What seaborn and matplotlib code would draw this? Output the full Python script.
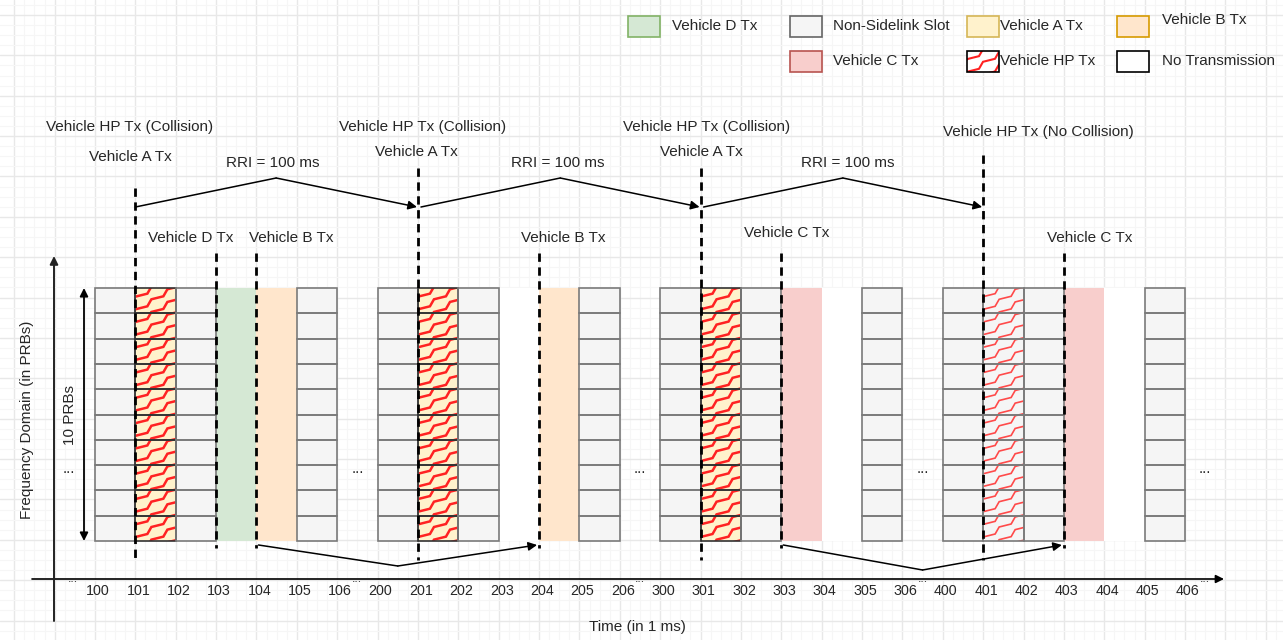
import numpy as np
import matplotlib
matplotlib.use('Agg')
import matplotlib.pyplot as plt
from matplotlib.patches import Rectangle
import seaborn as sns

# ---- data ----
BLOCK_STARTS = [100, 200, 300, 400]
N_PRB = 10
BLOCK_KINDS = [
    ['non_sl', 'hp_a', 'non_sl', 'veh_d', 'veh_b', 'non_sl'],
    ['non_sl', 'hp_a', 'non_sl', 'none', 'veh_b', 'non_sl'],
    ['non_sl', 'hp_a', 'non_sl', 'veh_c', 'none', 'non_sl'],
    ['non_sl', 'hp_free', 'non_sl', 'veh_c', 'none', 'non_sl'],
]
TICK_LABELS = [b + i for b in BLOCK_STARTS for i in range(7)]

HP_SLOTS = [101, 201, 301, 401]
HP_LABELS = ['Vehicle HP Tx (Collision)'] * 3 + ['Vehicle HP Tx (No Collision)']
A_SLOTS = [101, 201, 301]
A_LABEL = 'Vehicle A Tx'
OTHER_SLOTS = [103, 104, 204, 303, 403]
OTHER_LABELS = ['Vehicle D Tx', 'Vehicle B Tx', 'Vehicle B Tx', 'Vehicle C Tx', 'Vehicle C Tx']
RRI_PAIRS = [(101, 201), (201, 301), (301, 401)]
RRI_LABEL = 'RRI = 100 ms'
RESEL_PAIRS = [(104, 204), (303, 403)]

LEGEND_ROWS = [['veh_d', 'non_sl', 'veh_a', 'veh_b'],
               [None, 'veh_c', 'hp', 'none']]
LEGEND_TEXT = {'veh_d': 'Vehicle D Tx', 'non_sl': 'Non-Sidelink Slot', 'veh_a': 'Vehicle A Tx',
               'veh_b': 'Vehicle B Tx', 'veh_c': 'Vehicle C Tx', 'hp': 'Vehicle HP Tx',
               'none': 'No Transmission'}

# ---- styles / layout ----
COLORS = {'non_sl': ('#f5f5f5', '#666666'), 'veh_a': ('#fff2cc', '#d6b656'),
          'veh_b': ('#ffe6cc', '#d79b00'), 'veh_c': ('#f8cecc', '#b85450'),
          'veh_d': ('#d5e8d4', '#82b366'), 'none': ('#ffffff', '#000000'),
          'hp': ('#ffffff', '#000000')}
SLOT_PX = 40.37
X0_PX = 95
TOP = 288
ROW_H = 25.3
BOTTOM = TOP + N_PRB * ROW_H

sns.set_theme(style='white')
plt.rcParams['font.family'] = ['Liberation Sans', 'DejaVu Sans']


def slot_pos(s):
    return (s // 100 - 1) * 7 + s % 100


def px2x(px):
    return (px - X0_PX) / SLOT_PX


def zigzag(ax, x_left, y_top, w_px, h_px, color, lw, z):
    # red zigzag fill (sketch style) clipped to the cell
    clip = Rectangle((x_left, y_top), w_px / SLOT_PX, h_px, transform=ax.transData)
    for c in np.arange(y_top - 4, y_top + h_px + w_px * 0.7 + 12, ROW_H / 2):
        xs, ys = [], []
        for k in range(-1, int(w_px / 16) + 2):
            xs += [k * 16, k * 16 + 12]
            ys += [c - k * 10, c - k * 10 - 3]
        ln, = ax.plot(x_left + np.array(xs) / SLOT_PX, ys, color=color, lw=lw,
                      solid_joinstyle='miter', zorder=z)
        ln.set_clip_path(clip)


fig = plt.figure(figsize=(12.83, 6.40), dpi=100)
ax = fig.add_axes([0, 0, 1, 1])

# background grid like a drawing canvas
ax.set_xticks(np.arange(-2, 31))
ax.set_xticks(np.arange(-2, 31, 0.25), minor=True)
ax.set_yticks(np.arange(15, 640, SLOT_PX))
ax.set_yticks(np.arange(15 - SLOT_PX, 640, SLOT_PX / 4), minor=True)
ax.grid(which='major', color='#e8e8e8', lw=1.0)
ax.grid(which='minor', color='#f6f6f6', lw=0.8)
ax.tick_params(which='both', length=0, labelbottom=False, labelleft=False)
ax.set_axisbelow(True)
for sp in ax.spines.values():
    sp.set_visible(False)

# ---- resource grid ----
for b, kinds in zip(BLOCK_STARTS, BLOCK_KINDS):
    for i, kind in enumerate(kinds):
        x = slot_pos(b + i)
        if kind in ('non_sl', 'hp_a', 'hp_free'):
            fill = COLORS['veh_a'][0] if kind == 'hp_a' else COLORS['non_sl'][0]
            edge = '#333333' if kind == 'hp_a' else '#7a7a7a'
            bottoms = TOP + np.arange(N_PRB) * ROW_H
            ax.bar([x] * N_PRB, ROW_H, bottom=bottoms, width=1, align='edge',
                   color=fill, edgecolor='none', zorder=2)
            if kind != 'non_sl':
                red = '#ff2222' if kind == 'hp_a' else '#ff4a4a'
                zigzag(ax, x, TOP, SLOT_PX, N_PRB * ROW_H, red, 1.8 if kind == 'hp_a' else 1.2, 3)
            ax.bar([x] * N_PRB, ROW_H, bottom=bottoms, width=1, align='edge',
                   fill=False, edgecolor=edge, lw=1.2, zorder=4)
        else:
            ax.bar([x], N_PRB * ROW_H, bottom=TOP, width=1, align='edge',
                   color=COLORS[kind][0], edgecolor='none', zorder=2)

# ---- event markers ----
dash = (0, (3, 2))
HP_DX = [-6, 5, 6, 55]
HP_Y = [127, 127, 127, 132]
HP_TOP = [188, 168, 168, 155]
for s, lab, dx, ty, top in zip(HP_SLOTS, HP_LABELS, HP_DX, HP_Y, HP_TOP):
    x = slot_pos(s)
    ax.vlines(x, top, 560, colors='black', lw=2, linestyles=dash, zorder=5)
    ax.text(x + dx / SLOT_PX, ty, lab, ha='center', va='center', fontsize=11, zorder=6)
A_DX = [-5, -2, 1]
A_Y = [157, 152, 152]
for s, dx, ty in zip(A_SLOTS, A_DX, A_Y):
    ax.text(slot_pos(s) + dx / SLOT_PX, ty, A_LABEL, ha='center', va='center', fontsize=11, zorder=6)
O_DX = [-25, 35, 24, 5, 26]
O_Y = [238, 238, 238, 233, 238]
for s, lab, dx, ty in zip(OTHER_SLOTS, OTHER_LABELS, O_DX, O_Y):
    x = slot_pos(s)
    ax.vlines(x, 253, 548, colors='black', lw=2, linestyles=dash, zorder=5)
    ax.text(x + dx / SLOT_PX, ty, lab, ha='center', va='center', fontsize=11, zorder=6)


def bent_arrow(x0, x1, y_end, y_mid):
    xm = (x0 + x1) / 2
    ax.plot([x0, xm], [y_end, y_mid], color='black', lw=1.1, zorder=5)
    ax.annotate('', xy=(x1, y_end), xytext=(xm, y_mid),
                arrowprops=dict(arrowstyle='-|>', color='black', lw=1.1,
                                mutation_scale=13, shrinkA=0, shrinkB=0), zorder=5)
    return xm


for i, (a, b) in enumerate(RRI_PAIRS):
    xa = slot_pos(a) + (0 if i == 0 else 3 / SLOT_PX)
    xm = bent_arrow(xa, slot_pos(b) - 1 / SLOT_PX, 207, 178)
    ax.text(xm - 3 / SLOT_PX + (8 / SLOT_PX if i == 2 else 0), 163, RRI_LABEL,
            ha='center', va='center', fontsize=11, zorder=6)
for (a, b), ym in zip(RESEL_PAIRS, [566, 570]):
    bent_arrow(slot_pos(a) + 2 / SLOT_PX, slot_pos(b) - 2 / SLOT_PX, 545, ym)

# ---- axes drawn as arrows ----
ax.annotate('', xy=(px2x(1224), 579), xytext=(px2x(32), 579),
            arrowprops=dict(arrowstyle='-|>', color='black', lw=1.2, mutation_scale=12,
                            shrinkA=0, shrinkB=0))
ax.annotate('', xy=(px2x(54), 256), xytext=(px2x(54), 621),
            arrowprops=dict(arrowstyle='-|>', color='#222222', lw=1.4, mutation_scale=12,
                            shrinkA=0, shrinkB=0))
ax.annotate('', xy=(px2x(84), TOP), xytext=(px2x(84), BOTTOM),
            arrowprops=dict(arrowstyle='<|-|>', color='black', lw=1.3, mutation_scale=12,
                            shrinkA=0, shrinkB=0))
ax.text(px2x(70), 415, '10 PRBs', rotation=90, ha='center', va='center', fontsize=11)
ax.text(px2x(27), 420, 'Frequency Domain (in PRBs)', rotation=90, ha='center', va='center', fontsize=11)
ax.text(px2x(637), 627, 'Time (in 1 ms)', ha='center', va='center', fontsize=11)

for t in TICK_LABELS:
    ax.text(slot_pos(t) + 3 / SLOT_PX, 591, str(t), ha='center', va='center', fontsize=10.3)
for xd in [-0.65, 6.5, 13.5, 20.5, 27.5]:
    ax.text(xd, 469, '...', ha='center', va='center', fontsize=11)
    ax.text(xd + (0.1 if xd < 0 else 0), 579, '...', ha='center', va='center', fontsize=9)

# ---- legend ----
LEG_BOX_X = [628, 790, 967, 1117]
LEG_TXT_X = [672, 833, 1000, 1162]
LEG_Y = [26, 61]
for row, yc in zip(LEGEND_ROWS, LEG_Y):
    for kind, bx, tx in zip(row, LEG_BOX_X, LEG_TXT_X):
        if kind is None:
            continue
        fill, edge = COLORS[kind]
        ax.add_patch(Rectangle((px2x(bx), yc - 10.5), 32 / SLOT_PX, 21, facecolor=fill,
                               edgecolor='none', zorder=3))
        if kind == 'hp':
            zigzag(ax, px2x(bx), yc - 10.5, 32, 21, '#ff2222', 1.5, 4)
        ax.add_patch(Rectangle((px2x(bx), yc - 10.5), 32 / SLOT_PX, 21, fill=False,
                               edgecolor=edge, lw=1.2, zorder=5))
        ty = yc - 6 if kind == 'veh_b' else yc
        ax.text(px2x(tx), ty, LEGEND_TEXT[kind], ha='left', va='center', fontsize=11, zorder=6)

ax.set_xlim(px2x(0), px2x(1283))
ax.set_ylim(640, 0)
fig.savefig('out.png', dpi=100)
